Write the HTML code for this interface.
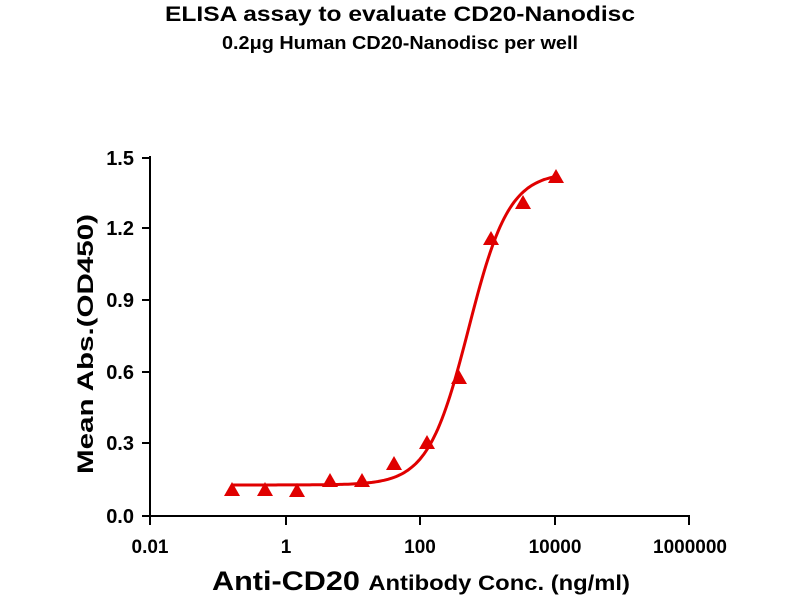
<!DOCTYPE html>
<html><head><style>body{margin:0;background:#fff}svg text{font-family:"Liberation Sans",Arial,sans-serif;font-weight:bold}</style></head>
<body>
<svg id="s" width="800" height="600" viewBox="0 0 800 600">
<text x="400" y="21" font-size="21" text-anchor="middle" textLength="470" lengthAdjust="spacingAndGlyphs">ELISA assay to evaluate CD20-Nanodisc</text>
<text x="400" y="49" font-size="18" text-anchor="middle" textLength="356" lengthAdjust="spacingAndGlyphs">0.2μg Human CD20-Nanodisc per well</text>
<g stroke="#000" stroke-width="2" fill="none">
<line x1="150" y1="156" x2="150" y2="517"/>
<line x1="149" y1="516" x2="690" y2="516"/>
<line x1="142" y1="158" x2="150" y2="158"/>
<line x1="142" y1="228" x2="150" y2="228"/>
<line x1="142" y1="300" x2="150" y2="300"/>
<line x1="142" y1="372" x2="150" y2="372"/>
<line x1="142" y1="443" x2="150" y2="443"/>
<line x1="142" y1="516" x2="150" y2="516"/>
<line x1="150" y1="516" x2="150" y2="525"/>
<line x1="286" y1="516" x2="286" y2="525"/>
<line x1="420" y1="516" x2="420" y2="525"/>
<line x1="555" y1="516" x2="555" y2="525"/>
<line x1="689" y1="516" x2="689" y2="525"/>
</g>
<g font-size="20" text-anchor="end">
<text x="134" y="165">1.5</text><text x="134" y="235">1.2</text><text x="134" y="307">0.9</text>
<text x="134" y="379">0.6</text><text x="134" y="450">0.3</text><text x="134" y="523">0.0</text>
</g>
<g font-size="19" text-anchor="middle">
<text x="150" y="553">0.01</text><text x="286" y="553">1</text><text x="420" y="553">100</text>
<text x="555" y="553">10000</text><text x="690" y="553">1000000</text>
</g>
<text transform="translate(93,344) rotate(-90)" font-size="22" text-anchor="middle" textLength="260" lengthAdjust="spacingAndGlyphs">Mean Abs.(OD450)</text>
<text x="421" y="590" text-anchor="middle" textLength="418" lengthAdjust="spacingAndGlyphs"><tspan font-size="27">Anti-CD20 </tspan><tspan font-size="21">Antibody Conc. (ng/ml)</tspan></text>
<path id="c" fill="none" stroke="#e00000" stroke-width="3"/>
<g id="p" fill="#e00000"></g>
</svg>
<script>
var d="",b=0.13,t=1.44,c=2.72,h=1.45;
function Y(v){return 516-v*(358/1.5);}
for(var px=232;px<=556;px+=2){var x=-2+(px-150)/67.5;var v=b+(t-b)/(1+Math.pow(10,(c-x)*h));d+=(d?"L":"M")+px+","+Y(v).toFixed(1);}
document.getElementById("c").setAttribute("d",d);
var pts=[[232,490],[265,490],[297,491],[330,481],[362,481],[394,464],[427,443],[459,378],[491,239],[523,203],[556,177]];
var g=document.getElementById("p"),s="";
pts.forEach(function(p){s+='<polygon points="'+p[0]+','+(p[1]-8)+' '+(p[0]-8)+','+(p[1]+6)+' '+(p[0]+8)+','+(p[1]+6)+'"/>';});
g.innerHTML=s;
</script>
</body></html>
